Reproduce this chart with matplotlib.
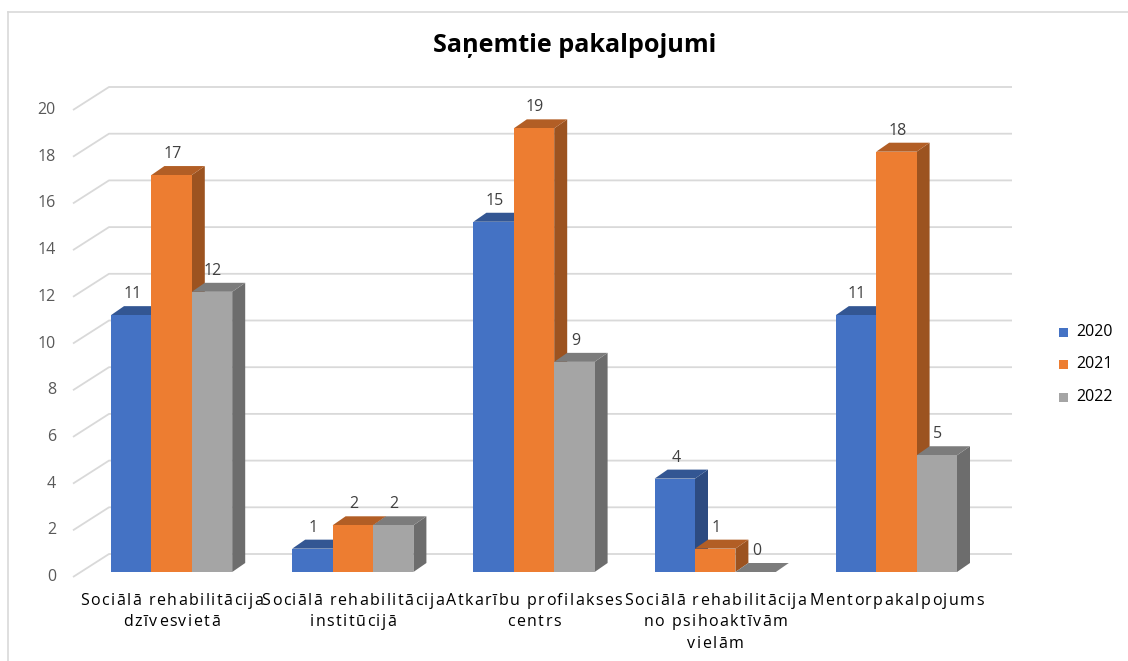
import matplotlib
matplotlib.use("Agg")
import matplotlib.pyplot as plt
from matplotlib.patches import Polygon, Rectangle
from matplotlib.font_manager import FontProperties
from matplotlib.textpath import text_to_path
import numpy as np

plt.rcParams['font.family'] = ['Open Sans', 'DejaVu Sans']

title = "Saņemtie pakalpojumi"
categories = ["Sociālā rehabilitācija\ndzīvesvietā",
              "Sociālā rehabilitācija\ninstitūcijā",
              "Atkarību profilakses\ncentrs",
              "Sociālā rehabilitācija\nno psihoaktīvām\nvielām",
              "Mentorpakalpojums"]
series_names = ["2020", "2021", "2022"]
v2020 = [11, 1, 15, 4, 11]
v2021 = [17, 2, 19, 1, 18]
v2022 = [12, 2, 9, 0, 5]
yticks = [0, 2, 4, 6, 8, 10, 12, 14, 16, 18, 20]

colors = ["#4472C4", "#ED7D31", "#A5A5A5"]

def shade(c, f):
    c = np.array(matplotlib.colors.to_rgb(c))
    return tuple(c * f)

W, H = 1128, 661
fig = plt.figure(figsize=(W / 100, H / 100), dpi=100)

# border of chart area (top and left visible)
bax = fig.add_axes([0, 0, 1, 1])
bax.set_xlim(0, W); bax.set_ylim(H, 0); bax.axis('off')
bax.plot([8, W + 5], [12, 12], color="#D9D9D9", lw=1.2)
bax.plot([8, 8], [12, H + 5], color="#D9D9D9", lw=1.2)

# front plane pixel mapping
x0px, x1px = 73, 979
y0px, y20px = 577, 110
ax = fig.add_axes([x0px / W, (H - y0px) / H, (x1px - x0px) / W, (y0px - y20px) / H])
ax.set_xlim(0, 5); ax.set_ylim(0, 20); ax.axis('off')

pxx = 5 / (x1px - x0px)
pxy = 20 / (y0px - y20px)

wdx, wdy = 36 * pxx, 23 * pxy
fdx, fdy = 8 * pxx, 5 * pxy
bdx, bdy = 13 * pxx, 9 * pxy
bw = 40.4 * pxx

grid_c = "#D9D9D9"
for v in yticks:
    ax.plot([0, wdx, 5 + wdx - 3 * pxx], [v, v + wdy, v + wdy], color=grid_c, lw=1.3,
            clip_on=False, zorder=1, solid_capstyle='butt')
    ax.text(-17 * pxx, v, str(v), ha='right', va='center', fontsize=11.5,
            color="#595959")

lab_fs = 11.5
lab_prop = FontProperties(family='Open Sans', size=lab_fs)
spacing_px = 1.5

def char_w_px(ch):
    w, h, d = text_to_path.get_text_width_height_descent(ch, lab_prop, ismath=False)
    return w * 100 / 72

def spaced_line(xc_px, y_px, line):
    widths = [char_w_px(ch) for ch in line]
    total = sum(widths) + spacing_px * (len(line) - 1)
    x = xc_px - total / 2
    for ch, w in zip(line, widths):
        bax.text(x, y_px, ch, ha='left', va='center', fontproperties=lab_prop,
                 color="#000000", zorder=50)
        x += w + spacing_px

data = [v2020, v2021, v2022]
z = 2
for i in range(len(categories)):
    cx = i + 0.5
    for s in range(3):
        val = data[s][i]
        xl = cx - 1.5 * bw + s * bw + fdx
        xr = xl + bw
        yb = fdy
        yt = val + fdy
        c = colors[s]
        front = Polygon([(xl, yb), (xr, yb), (xr, yt), (xl, yt)], closed=True,
                        fc=c, ec='none', clip_on=False, zorder=z)
        side = Polygon([(xr, yb), (xr + bdx, yb + bdy), (xr + bdx, yt + bdy), (xr, yt)],
                       closed=True, fc=shade(c, 0.66), ec='none', clip_on=False, zorder=z)
        top = Polygon([(xl, yt), (xr, yt), (xr + bdx, yt + bdy), (xl + bdx, yt + bdy)],
                      closed=True, fc=shade(c, 0.75), ec='none', clip_on=False, zorder=z)
        ax.add_patch(side); ax.add_patch(top); ax.add_patch(front)
        z += 1
        ax.text((xl + xr) / 2 + 1 * pxx, yt + bdy + 4 * pxy, str(val), ha='center',
                va='bottom', fontsize=11.5, color="#404040", zorder=50)
    xc_px = x0px + (cx + fdx) / pxx
    for k, line in enumerate(categories[i].split("\n")):
        spaced_line(xc_px, 601 + k * 21.5, line)

fig.text(575 / W, 1 - 45 / H, title, ha='center', va='center', fontsize=18.2,
         fontweight='bold', color="#000000")

# legend
for k, name in enumerate(series_names):
    yc = 332 + k * 32.5
    bax.add_patch(Rectangle((1059, yc - 4.5), 9, 9, fc=colors[k], ec='none'))
    bax.text(1076, yc, name, ha='left', va='center', fontsize=11.5, color="#000000")

fig.savefig("out.png", dpi=100)
